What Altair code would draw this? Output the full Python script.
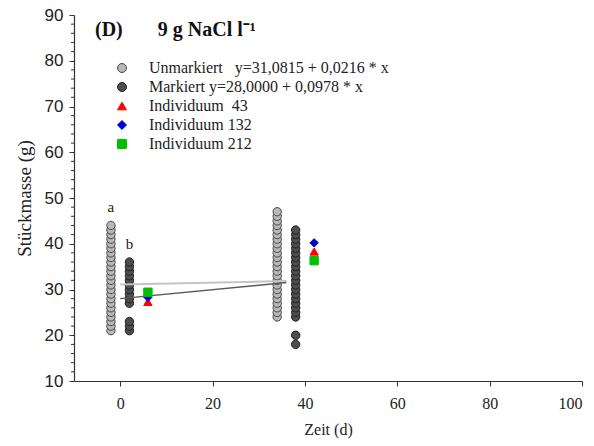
import altair as alt
import pandas as pd

# ---- data ----
series_names = [
    "Unmarkiert\u00a0\u00a0\u00a0y=31,0815 + 0,0216 * x",
    "Markiert y=28,0000 + 0,0978 * x",
    "Individuum\u00a0\u00a043",
    "Individuum 132",
    "Individuum 212",
]

unm_day1 = -2
unm_mass1 = [21, 22, 23, 24, 25, 26, 27, 28, 29, 30, 31, 32, 33, 34, 35, 36, 37, 38, 39, 40, 41, 42, 43, 44]
mark_day1 = 2
mark_mass1 = [21, 22, 23, 27, 28, 29, 30, 31, 32, 33, 34, 35, 36]
unm_day2 = 34
unm_mass2 = [24, 25, 26, 27, 28, 29, 30, 31, 32, 33, 34, 35, 36, 37, 38, 39, 40, 41, 42, 43, 44, 45, 46, 47]
mark_day2 = 38
mark_mass2 = [18, 20, 24, 25, 26, 27, 28, 29, 30, 31, 32, 33, 34, 35, 36, 37, 38, 39, 40, 41, 42, 43]

ind_days = [6, 42]
ind43_mass = [27.3, 38.3]
ind132_mass = [28.3, 40.2]
ind212_mass = [29.4, 36.3]

reg_days = [0, 36]
reg_unm = [31.08, 31.86]
reg_mark = [28.00, 31.52]

letter_days = [-2, 2]
letter_mass = [48, 40]
letter_text = ["a", "b"]

major_y = list(range(10, 91, 10))
minor_y = [v for v in range(10, 91, 2) if v % 10 != 0]
x_ticks = [0, 20, 40, 60, 80, 100]

# ---- tables ----
circ_rows = []
for d, ms, s in [(unm_day1, unm_mass1, series_names[0]), (mark_day1, mark_mass1, series_names[1]),
                 (unm_day2, unm_mass2, series_names[0]), (mark_day2, mark_mass2, series_names[1])]:
    for m in ms:
        circ_rows.append({"day": d, "mass": m, "series": s})
circ_df = pd.DataFrame(circ_rows)

ind_rows = []
for ms, s in [(ind43_mass, series_names[2]), (ind132_mass, series_names[3]), (ind212_mass, series_names[4])]:
    for d, m in zip(ind_days, ms):
        ind_rows.append({"day": d, "mass": m, "series": s})
ind_df = pd.DataFrame(ind_rows)

reg_df = pd.DataFrame(
    [{"day": d, "mass": m, "grp": "u"} for d, m in zip(reg_days, reg_unm)]
    + [{"day": d, "mass": m, "grp": "m"} for d, m in zip(reg_days, reg_mark)]
)
letter_df = pd.DataFrame({"day": letter_days, "mass": letter_mass, "t": letter_text})
minor_df = pd.DataFrame({"mass": minor_y})

fills = ["#b8b8b8", "#4e4e4e", "#ff0000", "#0000d4", "#00c000"]
strokes = ["#474747", "#1e1e1e", "#ff0000", "#0000d4", "#00c000"]
shapes = ["circle", "circle", "triangle-up", "diamond", "square"]

y_scale = alt.Scale(domain=[10, 90], nice=False, zero=False)
x_scale = alt.Scale(domain=[-10, 100], nice=False, zero=False)

x_enc = alt.X("day:Q", scale=x_scale,
              axis=alt.Axis(values=x_ticks, title="Zeit (d)", grid=False,
                            labelFont="Liberation Serif", labelFontSize=16, labelColor="#222",
                            titleFont="Liberation Serif", titleFontSize=16, titleFontWeight="normal",
                            titleColor="#222", tickSize=5, labelPadding=9, titlePadding=10,
                            domainColor="#333", tickColor="#333"))
y_enc = alt.Y("mass:Q", scale=y_scale,
              axis=alt.Axis(values=major_y, orient="left", labelOverlap=False,
                            tickSize=5,
                            title="Stückmasse (g)", grid=False,
                            labelFont="Liberation Sans", labelFontSize=17, labelColor="#222",
                            titleFont="Liberation Serif", titleFontSize=19, titleFontWeight="normal",
                            titleColor="#222", labelPadding=6, titlePadding=10,
                            domainColor="#333", tickColor="#333"))

legend = alt.Legend(title=None, orient="none", legendX=40, legendY=45,
                    labelFont="Liberation Serif", labelFontSize=16, labelColor="#222",
                    symbolSize=80, rowPadding=3, labelOffset=19, symbolStrokeWidth=1,
                    labelLimit=500)

fill_enc = alt.Fill("series:N", scale=alt.Scale(domain=series_names, range=fills), legend=legend)
stroke_enc = alt.Stroke("series:N", scale=alt.Scale(domain=series_names, range=strokes), legend=legend)
shape_enc = alt.Shape("series:N", scale=alt.Scale(domain=series_names, range=shapes), legend=legend)

circles = alt.Chart(circ_df).mark_point(filled=True, size=70, strokeWidth=1, opacity=1).encode(
    x=x_enc, y=y_enc, fill=fill_enc, stroke=stroke_enc, shape=shape_enc)

minor_ticks = alt.Chart(minor_df).mark_rule(color="#333", strokeWidth=1, clip=False).encode(
    y="mass:Q", x=alt.value(-3), x2=alt.value(0))

lines = alt.Chart(reg_df).mark_line(clip=True).encode(
    x="day:Q", y="mass:Q",
    detail="grp:N",
    color=alt.Color("grp:N", scale=alt.Scale(domain=["u", "m"], range=["#c4c4c4", "#5a5a5a"]), legend=None),
    strokeWidth=alt.StrokeWidth("grp:N", scale=alt.Scale(domain=["u", "m"], range=[2, 1.4]), legend=None),
)

inds = alt.Chart(ind_df).mark_point(filled=True, size=70, strokeWidth=1, opacity=1).encode(
    x="day:Q", y="mass:Q", fill=fill_enc, stroke=stroke_enc, shape=shape_enc)

letters = alt.Chart(letter_df).mark_text(font="Liberation Serif", fontSize=15, color="#222").encode(
    x="day:Q", y="mass:Q", text="t:N")

chart = alt.layer(circles, minor_ticks, lines, inds, letters).properties(
    width=508, height=366,
    title=alt.TitleParams("(D)\u00a0\u00a0\u00a0\u00a0\u00a0\u00a0\u00a09 g NaCl l\u207b\u00b9", anchor="start", frame="group",
                          font="Liberation Serif", fontSize=20, fontWeight="bold", color="#111",
                          dx=21, dy=38),
    autosize=alt.AutoSizeParams(type="none"),
    padding={"left": 74, "top": 15, "right": 12, "bottom": 65},
).configure_view(stroke=None).configure_axis(domainWidth=1.2, tickWidth=1)

chart.save("out.html", embed_options={"renderer": "svg", "actions": False})
